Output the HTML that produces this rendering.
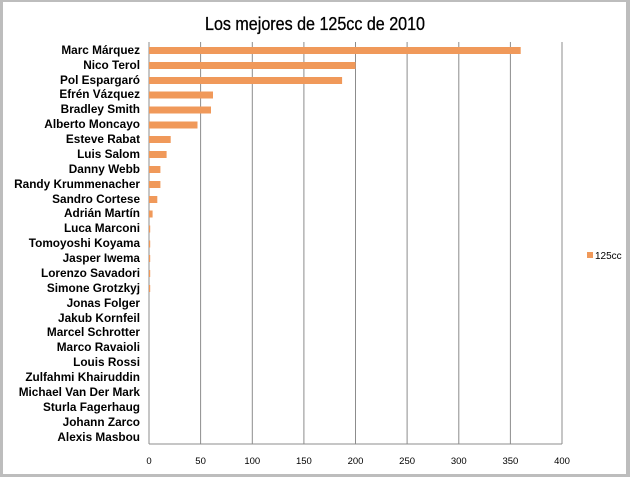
<!DOCTYPE html>
<html><head><meta charset="utf-8"><style>
html,body{margin:0;padding:0;background:#fff}
svg{display:block}
</style></head><body>
<svg width="630" height="477" viewBox="0 0 630 477" xmlns="http://www.w3.org/2000/svg" font-family="Liberation Sans, sans-serif">
<rect x="0" y="0" width="630" height="477" fill="#bdbdbd"/>
<rect x="3" y="2" width="623" height="472" fill="#fff"/>
<text x="205" y="30" font-size="18" textLength="220" lengthAdjust="spacingAndGlyphs" fill="#000" stroke="#000" stroke-width="0.3">Los mejores de 125cc de 2010</text>
<g stroke="#8c8c8c" stroke-width="1">
<line x1="200.6" y1="42" x2="200.6" y2="444"/>
<line x1="252.3" y1="42" x2="252.3" y2="444"/>
<line x1="303.9" y1="42" x2="303.9" y2="444"/>
<line x1="355.5" y1="42" x2="355.5" y2="444"/>
<line x1="407.1" y1="42" x2="407.1" y2="444"/>
<line x1="458.8" y1="42" x2="458.8" y2="444"/>
<line x1="510.4" y1="42" x2="510.4" y2="444"/>
<line x1="562" y1="42" x2="562" y2="444"/>
<line x1="149" y1="42" x2="149" y2="444"/>
<line x1="149" y1="444" x2="562" y2="444"/>
</g>
<g fill="#f0995a">
<rect x="149" y="47" width="371.7" height="7"/>
<rect x="149" y="62" width="206.5" height="7"/>
<rect x="149" y="77" width="193.1" height="7"/>
<rect x="149" y="91.5" width="64" height="7"/>
<rect x="149" y="106.5" width="62" height="7"/>
<rect x="149" y="121.5" width="48.5" height="7"/>
<rect x="149" y="136" width="21.7" height="7"/>
<rect x="149" y="151" width="17.6" height="7"/>
<rect x="149" y="166" width="11.4" height="7"/>
<rect x="149" y="181" width="11.4" height="7"/>
<rect x="149" y="196" width="8.3" height="7"/>
<rect x="149" y="210.5" width="3.6" height="7"/>
<rect x="149" y="225.5" width="1.2" height="7"/>
<rect x="149" y="240.5" width="1.2" height="7"/>
<rect x="149" y="255" width="1.2" height="7"/>
<rect x="149" y="270" width="1.2" height="7"/>
<rect x="149" y="285" width="1.2" height="7"/>
</g>
<g font-size="11.8" font-weight="bold" text-anchor="end" fill="#000">
<text x="140" y="54">Marc Márquez</text>
<text x="140" y="69">Nico Terol</text>
<text x="140" y="84">Pol Espargaró</text>
<text x="140" y="98">Efrén Vázquez</text>
<text x="140" y="113">Bradley Smith</text>
<text x="140" y="128">Alberto Moncayo</text>
<text x="140" y="143">Esteve Rabat</text>
<text x="140" y="158">Luis Salom</text>
<text x="140" y="173">Danny Webb</text>
<text x="140" y="188">Randy Krummenacher</text>
<text x="140" y="203">Sandro Cortese</text>
<text x="140" y="217">Adrián Martín</text>
<text x="140" y="232">Luca Marconi</text>
<text x="140" y="247">Tomoyoshi Koyama</text>
<text x="140" y="262">Jasper Iwema</text>
<text x="140" y="277">Lorenzo Savadori</text>
<text x="140" y="292">Simone Grotzkyj</text>
<text x="140" y="307">Jonas Folger</text>
<text x="140" y="322">Jakub Kornfeil</text>
<text x="140" y="336">Marcel Schrotter</text>
<text x="140" y="351">Marco Ravaioli</text>
<text x="140" y="366">Louis Rossi</text>
<text x="140" y="381">Zulfahmi Khairuddin</text>
<text x="140" y="396">Michael Van Der Mark</text>
<text x="140" y="411">Sturla Fagerhaug</text>
<text x="140" y="426">Johann Zarco</text>
<text x="140" y="441">Alexis Masbou</text>
</g>
<g font-size="9.5" text-anchor="middle" fill="#000">
<text x="149" y="464">0</text>
<text x="200.6" y="464">50</text>
<text x="252.3" y="464">100</text>
<text x="303.9" y="464">150</text>
<text x="355.5" y="464">200</text>
<text x="407.1" y="464">250</text>
<text x="458.8" y="464">300</text>
<text x="510.4" y="464">350</text>
<text x="562" y="464">400</text>
</g>
<rect x="587" y="252" width="6" height="6" fill="#f0995a"/>
<text x="595" y="259" font-size="10" fill="#000">125cc</text>
</svg>
</body></html>
